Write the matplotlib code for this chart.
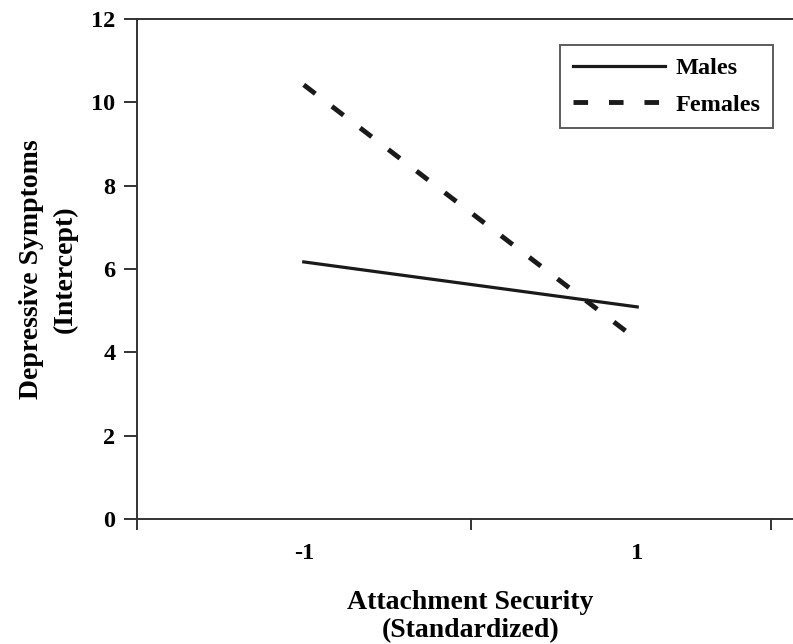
import matplotlib
matplotlib.use('Agg')
import matplotlib.pyplot as plt

# values
security = [-1, 1]
males = [6.17, 5.09]
females = [10.42, 4.3]
x_tick_labels = ['-1', '1']
y_ticks = [0, 2, 4, 6, 8, 10, 12]

plt.rcParams['font.family'] = ['Liberation Serif', 'DejaVu Serif']
plt.rcParams['font.weight'] = 'bold'

fig = plt.figure(figsize=(7.93, 6.44), dpi=100)
ax = fig.add_axes([137 / 793, 1 - 519 / 644, 1 - 137 / 793, (519 - 19) / 644])

ax.plot(security, males, color='#1a1a1a', lw=2.3, label='Males')
ax.plot(security, females, color='#1a1a1a', lw=3.5, dashes=(3, 4.3), label='Females')

ax.set_xlim(-1.994, 1.934)
ax.set_ylim(0, 12)

ax.spines['right'].set_visible(False)
for s in ['left', 'top', 'bottom']:
    ax.spines[s].set_linewidth(1.4)
    ax.spines[s].set_color('#333333')

ax.set_xticks([-2, 0, 1.8])
ax.set_xticklabels([])
ax.set_xticks(security, minor=True)
ax.set_xticklabels(x_tick_labels, minor=True)
ax.tick_params(axis='x', which='major', direction='out', length=8, width=1.4, color='#333333')
ax.tick_params(axis='x', which='minor', length=0, pad=17, labelsize=17.5)

ax.set_yticks(y_ticks)
ax.tick_params(axis='y', direction='out', length=9.5, width=1.4, pad=6, labelsize=17.5,
               color='#333333')

ax.set_ylabel('Depressive Symptoms\n(Intercept)', fontsize=20, fontweight='bold',
              linespacing=1.45)
ax.yaxis.set_label_coords(-0.09, 0.5)
ax.set_xlabel('Attachment Security\n(Standardized)', fontsize=20, fontweight='bold',
              linespacing=1.15)
ax.xaxis.set_label_coords(0.508, -0.142)
ax.xaxis.label.set_va('top')

leg = ax.legend(loc='upper right', bbox_to_anchor=(0.9695, 0.948), fontsize=17.5,
                frameon=True, fancybox=False, handlelength=3.8, handletextpad=0.45,
                borderpad=0.5, labelspacing=0.6, borderaxespad=0)
leg.get_frame().set_edgecolor('#333333')
leg.get_frame().set_linewidth(1.4)

fig.savefig('out.png', dpi=100)
